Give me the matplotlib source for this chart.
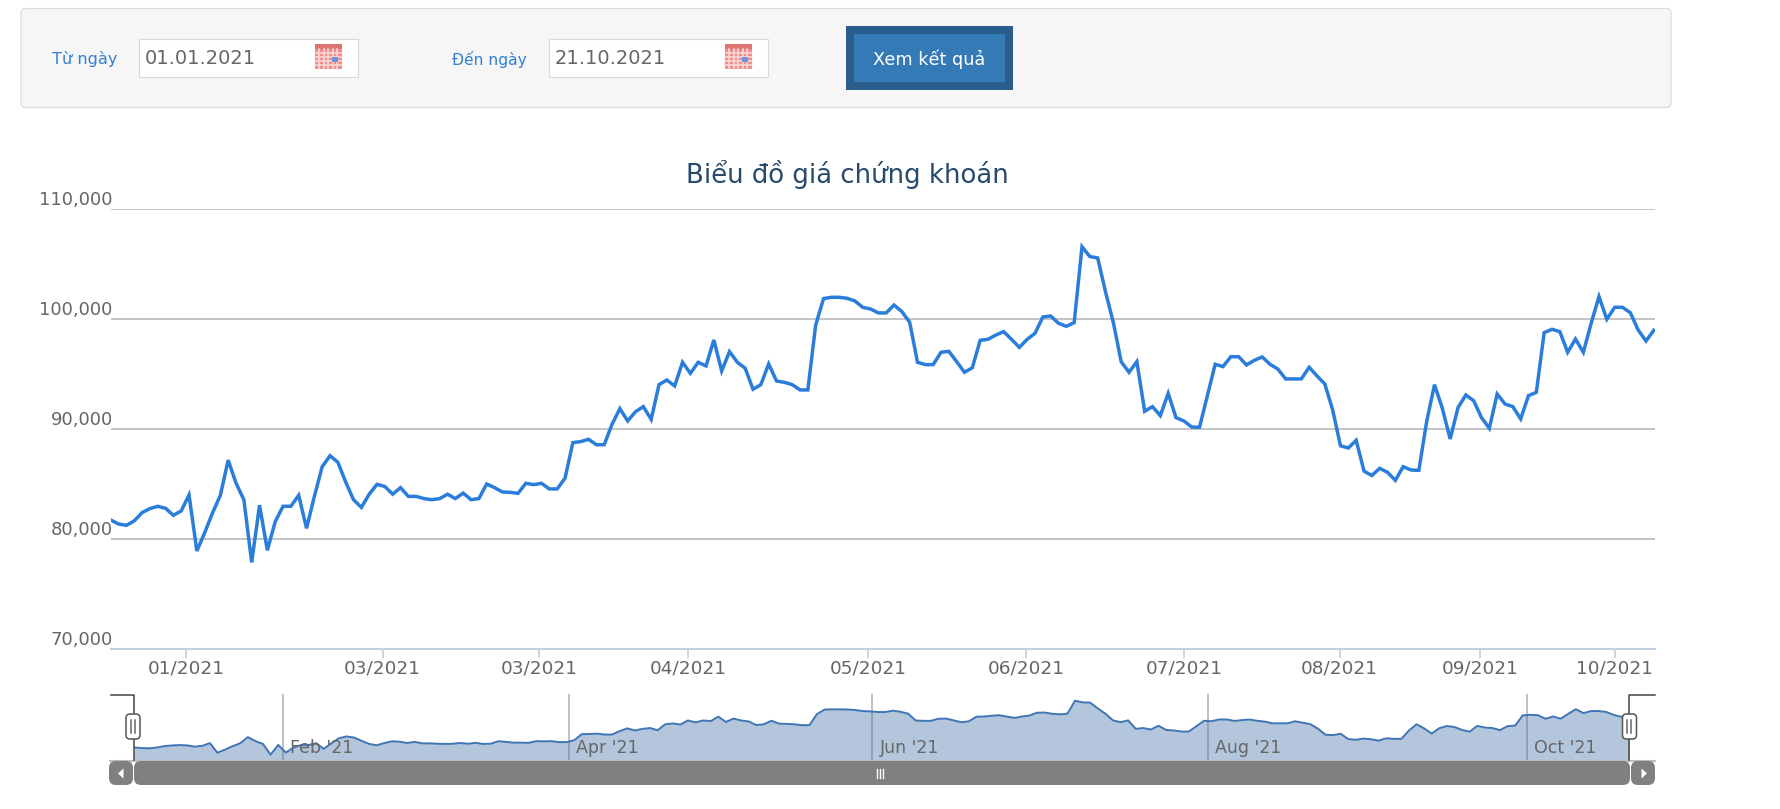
import matplotlib
matplotlib.use('Agg')
import numpy as np
import matplotlib.pyplot as plt
from matplotlib.patches import Rectangle, FancyBboxPatch, Polygon

W, H = 1781, 809

# gia dong cua, doc tu hinh
prices = [
    81760, 81390, 81270, 81670, 82420, 82790, 83000, 82820, 82180, 82580,
    84030, 78940, 80600, 82400, 84000, 87200, 85100, 83600, 77900, 83100,
    79000, 81600, 83000, 83000, 84000, 81000, 83900, 86600, 87600, 87000,
    85200, 83600, 82900, 84100, 85000, 84800, 84100, 84700, 83900, 83900,
    83700, 83600, 83700, 84100, 83700, 84200, 83600, 83700, 85030, 84700,
    84300, 84270, 84180, 85090, 84970, 85090, 84580, 84580, 85550, 88790,
    88880, 89090, 88600, 88600, 90450, 91880, 90760, 91600, 92060, 90900,
    94060, 94480, 93940, 96090, 95090, 96090, 95760, 98120, 95300, 97060,
    96090, 95550, 93640, 94060, 95940, 94390, 94270, 94060, 93580, 93580,
    99480, 101880, 102000, 102000, 101910, 101670, 101090, 100940, 100580, 100580,
    101300, 100700, 99730, 96090, 95880, 95880, 97000, 97090, 96150, 95180,
    95600, 98090, 98180, 98570, 98880, 98180, 97450, 98180, 98730, 100210,
    100300, 99640, 99360, 99700, 106600, 105700, 105580, 102500, 99700, 96150,
    95180, 96150, 91640, 92060, 91240, 93270, 91060, 90760, 90210, 90180,
    93060, 95910, 95700, 96600, 96600, 95850, 96270, 96580, 95910, 95480,
    94580, 94580, 94580, 95640, 94850, 94120, 91760, 88500, 88300, 89000,
    86200, 85800, 86450, 86090, 85360, 86600, 86300, 86270, 90700, 94060,
    91900, 89120, 91970, 93120, 92600, 91060, 90090, 93210, 92300, 92060,
    90940, 93060, 93360, 98790, 99090, 98880, 97000, 98210, 97000, 99640,
    102060, 100000, 101090, 101090, 100600, 99030, 98030, 99000,
]
y_ticks = [70000, 80000, 90000, 100000, 110000]
x_tick_pos = [9.6, 34.7, 54.7, 73.7, 96.7, 116.9, 137.0, 156.9, 174.8, 192.0]
x_tick_labels = ['01/2021', '03/2021', '03/2021', '04/2021', '05/2021',
                 '06/2021', '07/2021', '08/2021', '09/2021', '10/2021']
nav_pos = [19.6, 57.3, 97.3, 141.5, 183.6]
nav_labels = ["Feb '21", "Apr '21", "Jun '21", "Aug '21", "Oct '21"]

GREY = '#666666'
BLUE = '#2b7ddb'
LINK = '#2f80d0'
plt.rcParams['font.family'] = ['DejaVu Sans']


def px_axes(fig, left, top, right, bottom):
    return fig.add_axes([left / W, 1 - bottom / H, (right - left) / W, (bottom - top) / H])


fig = plt.figure(figsize=(W / 100, H / 100), dpi=100, facecolor='white')

# bieu do chinh
ax = px_axes(fig, 110.7, 209.3, 1655, 649.3)
x = np.arange(len(prices))
ax.plot(x, prices, color=BLUE, lw=2.5, solid_joinstyle='miter', zorder=3)
ax.set_xlim(0, 197.15)
ax.set_ylim(70000, 110000)
ax.set_yticks(y_ticks)
ax.set_yticklabels([])
ax.yaxis.grid(True, color='#c4c4c4', lw=1.4)
ax.set_axisbelow(True)
ax.tick_params(axis='y', length=0)
ax.set_xticks(x_tick_pos)
ax.set_xticklabels(x_tick_labels, fontsize=13.3, color=GREY)
ax.tick_params(axis='x', length=6.3, width=1.2, color='#c0d0e0', pad=1)
for s in ['top', 'left', 'right']:
    ax.spines[s].set_visible(False)
ax.spines['bottom'].set_color('#c0d0e0')
ax.spines['bottom'].set_linewidth(1.5)
for v in y_ticks:
    ax.annotate(f'{v:,}', xy=(0, v), xycoords=('axes fraction', 'data'), xytext=(2, 4),
                textcoords='offset pixels', ha='right', va='baseline', fontsize=13,
                color=GREY, annotation_clip=False)

# navigator
nav = px_axes(fig, 134, 694, 1629, 760)
nav.fill_between(x, prices, 75056, color='#4572A7', alpha=0.4, lw=0, zorder=2)
nav.plot(x, prices, color='#3f74b5', lw=1.4, solid_joinstyle='round', zorder=3)
nav.set_xlim(0, 197)
nav.set_ylim(75056, 110168)
nav.set_yticks([])
nav.set_xticks(nav_pos)
nav.set_xticklabels([])
nav.xaxis.grid(True, color='#c0c0c0', lw=1.4, zorder=1)
nav.tick_params(axis='x', length=0)
nav.set_axisbelow(True)
nav.patch.set_alpha(0)
for s in nav.spines.values():
    s.set_visible(False)
for p, lab in zip(nav_pos, nav_labels):
    nav.annotate(lab, xy=(p, 0), xycoords=('data', 'axes fraction'), xytext=(7, 7),
                 textcoords='offset pixels', ha='left', va='baseline', fontsize=12.5,
                 color=GREY, zorder=5)

# lop giao dien theo toa do pixel
ui = fig.add_axes([0, 0, 1, 1], zorder=10)
ui.set_xlim(0, W)
ui.set_ylim(H, 0)
ui.axis('off')
ui.patch.set_alpha(0)


def rbox(x0, y0, x1, y1, r, fc, ec='none', lw=1.0, z=2):
    ui.add_patch(FancyBboxPatch((x0 + r, y0 + r), x1 - x0 - 2 * r, y1 - y0 - 2 * r,
                                boxstyle=f'round,pad={r},rounding_size={r}',
                                fc=fc, ec=ec, lw=lw, zorder=z))


def calendar(x0, y0):
    w, h = 27, 25
    ui.add_patch(Rectangle((x0, y0), w, h, fc='#ee8f8b', ec='none', zorder=4))
    ui.add_patch(Rectangle((x0, y0), w, 5, fc='#e07470', ec='none', zorder=5))
    for k in range(1, 6):
        ui.plot([x0 + k * w / 6] * 2, [y0 + 5, y0 + h], color='#fbdcda', lw=1.1, zorder=5)
    for k in range(1, 5):
        ui.plot([x0, x0 + w], [y0 + 5 + k * 20 / 5] * 2, color='#fbdcda', lw=1.1, zorder=5)
    ui.add_patch(Rectangle((x0 + 17, y0 + 13), 6, 5, fc='#6f93e0', ec='none', zorder=6))


# khung loc ngay
rbox(21, 8.5, 1671, 107.5, 5, '#f6f6f6', '#dcdcdc', 0.9)
ui.text(52, 59, 'Từ ngày', fontsize=11.6, color=LINK, va='center', ha='left')
ui.text(452, 59, 'Đến ngày', fontsize=11.2, color=LINK, va='center', ha='left')
for x0, txt in [(139, '01.01.2021'), (549, '21.10.2021')]:
    ui.add_patch(Rectangle((x0, 39), 219, 38, fc='white', ec='#d8d8d8', lw=0.8, zorder=3))
    ui.text(x0 + 6, 58.5, txt, fontsize=14, color=GREY, va='center', ha='left', zorder=4)
    calendar(x0 + 176, 44)
ui.add_patch(Rectangle((846, 26), 167, 64, fc='#2a5d8c', ec='none', zorder=3))
ui.add_patch(Rectangle((854, 34), 151, 48, fc='#337ab7', ec='none', zorder=4))
ui.text(929, 59, 'Xem kết quả', fontsize=12.7, color='white', ha='center', va='center', zorder=5)

ui.text(847, 174, 'Biểu đồ giá chứng khoán', fontsize=18.7, color='#274b6d', ha='center', va='center')

# thanh cuon
ui.plot([110, 1655], [760.5, 760.5], color='#bdbdbd', lw=1.5, zorder=3)
rbox(109, 761, 133, 785, 7, '#808080', z=4)
rbox(134, 761, 1630, 785, 7, '#808080', z=4)
rbox(1631, 761, 1655, 785, 7, '#808080', z=4)
ui.add_patch(Polygon([[118, 773.5], [123.5, 768.5], [123.5, 778.5]], fc='white', ec='none', zorder=5))
ui.add_patch(Polygon([[1647, 773.5], [1641.5, 768.5], [1641.5, 778.5]], fc='white', ec='none', zorder=5))
for cx in [877, 880, 883]:
    ui.plot([cx, cx], [769, 777.5], color='white', lw=1, zorder=5)

# tay keo navigator
ui.plot([110.7, 134, 134], [694.5, 694.5, 760], color='#444444', lw=1.1, zorder=6)
ui.plot([1655, 1629, 1629], [694.5, 694.5, 760], color='#444444', lw=1.1, zorder=6)
for cx in [133, 1629.5]:
    rbox(cx - 7, 714, cx + 7, 739, 4, 'white', '#555555', 1.1, z=7)
    for dx in [-2, 2]:
        ui.plot([cx + dx, cx + dx], [720, 733], color='#666666', lw=1.1, zorder=8)

fig.savefig('out.png', dpi=100, facecolor='white')
